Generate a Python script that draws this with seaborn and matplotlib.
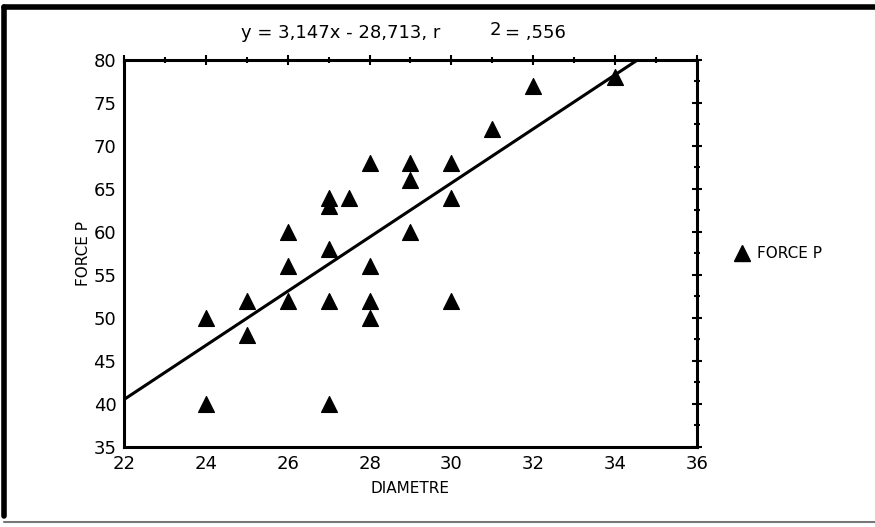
import matplotlib
matplotlib.use('Agg')
import matplotlib.pyplot as plt
from matplotlib.lines import Line2D
from matplotlib.ticker import MultipleLocator
import numpy as np
import pandas as pd
import seaborn as sns

# data
diametre = [24, 24, 25, 25, 26, 26, 26, 27, 27, 27, 27, 27, 27.5,
            28, 28, 28, 28, 29, 29, 29, 30, 30, 30, 31, 32, 34]
force_p = [50, 40, 52, 48, 60, 56, 52, 64, 63, 58, 52, 40, 64,
           68, 56, 52, 50, 68, 66, 60, 68, 64, 52, 72, 77, 78]
slope = 3.147
intercept = -28.713
r2_label = ",556"

df = pd.DataFrame({"DIAMETRE": diametre, "FORCE P": force_p})

sns.set_style("white")
plt.rcParams['font.family'] = ['DejaVu Sans']
plt.rcParams['text.color'] = 'black'
plt.rcParams['axes.labelcolor'] = 'black'
plt.rcParams['xtick.color'] = 'black'
plt.rcParams['ytick.color'] = 'black'

fig = plt.figure(figsize=(8.75, 5.27), dpi=100)
ax = fig.add_axes([124 / 875, 80 / 527, 573 / 875, 387 / 527])

sns.scatterplot(data=df, x="DIAMETRE", y="FORCE P", marker="^", s=130,
                color="black", edgecolor="black", ax=ax, zorder=3)

fit_x = np.array([22, 36])
sns.lineplot(x=fit_x, y=slope * fit_x + intercept, color="black", lw=2.2, ax=ax)

ax.set_xlim(22, 36)
ax.set_ylim(35, 80)
ax.xaxis.set_major_locator(MultipleLocator(2))
ax.xaxis.set_minor_locator(MultipleLocator(1))
ax.yaxis.set_major_locator(MultipleLocator(5))
ax.yaxis.set_minor_locator(MultipleLocator(2.5))
ax.tick_params(which="both", direction="inout", top=True, right=True,
               color="black", width=1.5)
ax.tick_params(which="major", length=7, labelsize=13, pad=2, labelcolor="black")
ax.tick_params(which="minor", length=4)
for sp in ax.spines.values():
    sp.set_visible(True)
    sp.set_color("black")
    sp.set_linewidth(2.2)

ax.set_xlabel("DIAMETRE", fontsize=11, labelpad=6, color="black")
ax.set_ylabel("FORCE P", fontsize=11, labelpad=2, color="black")

# equation title
fig.text(440 / 875, 1 - 33 / 527, f"y = {slope:.3f}x - {abs(intercept):.3f}, r".replace(".", ","),
         ha="right", va="center", fontsize=13, color="black")
fig.text(490 / 875, 1 - 30 / 527, "2", ha="left", va="center", fontsize=13, color="black")
fig.text(505 / 875, 1 - 33 / 527, f"= {r2_label}", ha="left", va="center", fontsize=13,
         color="black")

# legend
fig.add_artist(Line2D([742 / 875], [1 - 253 / 527], marker="^", color="black",
                      markersize=11, linestyle="none"))
fig.text(757 / 875, 1 - 253 / 527, "FORCE P", ha="left", va="center", fontsize=11,
         color="black")

# scanned frame around the figure
fig.add_artist(Line2D([4 / 875, 4 / 875], [0.02, 1 - 7 / 527], color="black", lw=4))
fig.add_artist(Line2D([4 / 875, 1.0], [1 - 7 / 527, 1 - 7 / 527], color="black", lw=4))
fig.add_artist(Line2D([4 / 875, 1.0], [1 - 522 / 527, 1 - 522 / 527], color="#777777", lw=1.5))

fig.savefig("out.png", dpi=100)
